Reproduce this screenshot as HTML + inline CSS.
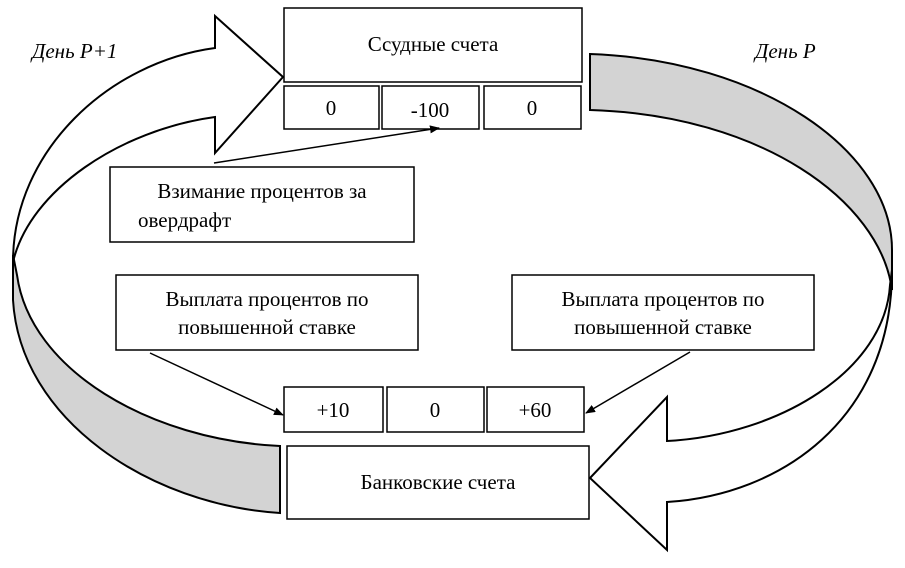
<!DOCTYPE html>
<html><head><meta charset="utf-8"><style>
body{margin:0;background:#fff}
svg text{font-family:"Liberation Serif","DejaVu Serif",serif;font-size:21px;fill:#000}
</style></head><body>
<svg width="905" height="563" viewBox="0 0 905 563" xmlns="http://www.w3.org/2000/svg">
<defs><marker id="a" markerWidth="10" markerHeight="8" refX="9" refY="4" orient="auto" markerUnits="userSpaceOnUse"><path d="M0,0 L10,4 L0,8 Z" fill="#000"/></marker></defs>
<g stroke="#000" stroke-width="2" stroke-linejoin="miter">
<path d="M13,255 L13,300 C20,420 150,505 280,513 L280,446 C150,440 30,370 17,275 Z" fill="#d3d3d3"/>
<path d="M215,48 C110,62 13,150 13,262 C30,190 120,130 215,117 L215,153 L283,77 L215,16 Z" fill="#fff"/>
<path d="M590,54 C760,60 892,150 892,250 L892,290 C880,200 760,115 590,110 Z" fill="#d3d3d3"/>
<path d="M892,270 C892,420 780,495 667,502 L667,550 L590,478 L667,397 L667,441 C780,435 885,370 890,285 Z" fill="#fff"/>
</g>
<g fill="#fff" stroke="#000" stroke-width="1.5">
<rect x="284" y="8" width="298" height="74"/>
<rect x="284" y="86" width="95" height="43"/>
<rect x="382" y="86" width="97" height="43"/>
<rect x="484" y="86" width="97" height="43"/>
<rect x="110" y="167" width="304" height="75"/>
<rect x="116" y="275" width="302" height="75"/>
<rect x="512" y="275" width="302" height="75"/>
<rect x="284" y="387" width="99" height="45"/>
<rect x="387" y="387" width="97" height="45"/>
<rect x="487" y="387" width="97" height="45"/>
<rect x="287" y="446" width="302" height="73"/>
</g>
<g stroke="#000" stroke-width="1.5" fill="none" marker-end="url(#a)">
<line x1="214" y1="163" x2="439" y2="128"/>
<line x1="150" y1="353" x2="283" y2="415"/>
<line x1="690" y1="352" x2="586" y2="413"/>
</g>
<text x="32" y="58" font-style="italic">День P+1</text>
<text x="755" y="58" font-style="italic">День P</text>
<g text-anchor="middle">
<text x="433" y="51">Ссудные счета</text>
<text x="331" y="115">0</text>
<text x="430" y="117">-100</text>
<text x="532" y="115">0</text>
<text x="262" y="198">Взимание процентов за</text>
<text x="267" y="306">Выплата процентов по</text>
<text x="267" y="334">повышенной ставке</text>
<text x="663" y="306">Выплата процентов по</text>
<text x="663" y="334">повышенной ставке</text>
<text x="333" y="417">+10</text>
<text x="435" y="417">0</text>
<text x="535" y="417">+60</text>
<text x="438" y="489">Банковские счета</text>
</g>
<text x="138" y="227">овердрафт</text>
</svg>
</body></html>
